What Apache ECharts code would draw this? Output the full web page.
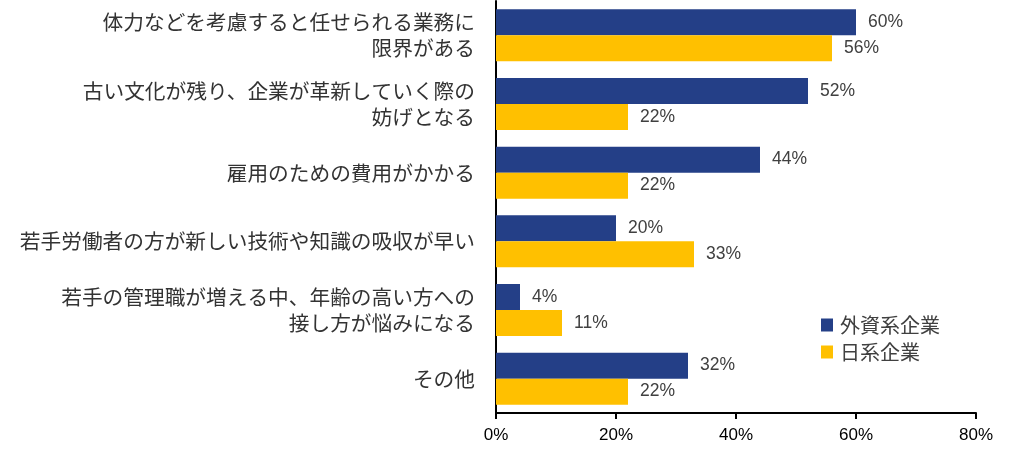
<!DOCTYPE html>
<html><head><meta charset="utf-8">
<script src="https://cdn.jsdelivr.net/npm/echarts@6/dist/echarts.min.js"></script>
<style>html,body{margin:0;padding:0;background:#fff}#c{width:1031px;height:449px}</style>
</head><body><div id="c"></div>
<script>
const categories = [
  "体力などを考慮すると任せられる業務に\n限界がある",
  "古い文化が残り、企業が革新していく際の\n妨げとなる",
  "雇用のための費用がかかる",
  "若手労働者の方が新しい技術や知識の吸収が早い",
  "若手の管理職が増える中、年齢の高い方への\n接し方が悩みになる",
  "その他"
];
const foreign = [60, 52, 44, 20, 4, 32];
const japanese = [56, 22, 22, 33, 11, 22];
const seriesNames = ["外資系企業", "日系企業"];
const xTicks = [0, 20, 40, 60, 80];

const font = "'Noto Sans CJK JP', 'Liberation Sans', sans-serif";
const numFont = "'Liberation Sans', sans-serif";
const chart = echarts.init(document.getElementById('c'));
chart.setOption({
  animation: false,
  textStyle: {fontFamily: font},
  grid: {left: 496, right: 55, top: 1, bottom: 36, containLabel: false},
  legend: {
    orient: 'vertical', left: 816, top: 310, itemWidth: 12, itemHeight: 13, itemGap: 7,
    icon: 'rect',
    textStyle: {fontSize: 20, color: '#404040', fontFamily: font, padding: [0, 0, 0, 2]},
    data: seriesNames
  },
  xAxis: {
    type: 'value', min: xTicks[0], max: xTicks[xTicks.length-1], interval: 20,
    axisLine: {show: true, lineStyle: {color: '#000', width: 2}},
    axisTick: {show: true, length: 6, lineStyle: {color: '#000', width: 2}},
    splitLine: {show: false},
    axisLabel: {formatter: '{value}%', fontSize: 17, color: '#000', margin: 14, fontFamily: numFont}
  },
  yAxis: {
    type: 'category', data: categories, inverse: true,
    axisLine: {show: true, lineStyle: {color: '#000', width: 2}},
    axisTick: {show: false},
    axisLabel: {fontSize: 20.7, color: '#333', margin: 21, lineHeight: 26, align: 'right'}
  },
  series: [
    {name: seriesNames[0], type: 'bar', data: foreign, barWidth: 26, barGap: '0%',
     itemStyle: {color: '#243F87'},
     label: {show: true, position: 'right', distance: 12, formatter: '{c}%', fontSize: 17.5, color: '#404040', fontFamily: numFont}},
    {name: seriesNames[1], type: 'bar', data: japanese, barWidth: 26,
     itemStyle: {color: '#FFC000'},
     label: {show: true, position: 'right', distance: 12, formatter: '{c}%', fontSize: 17.5, color: '#404040', fontFamily: numFont}}
  ]
});
</script></body></html>
